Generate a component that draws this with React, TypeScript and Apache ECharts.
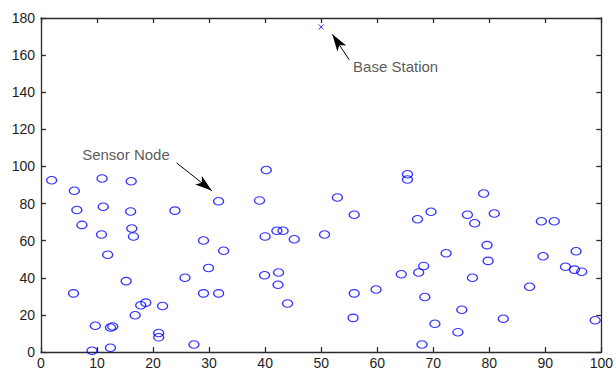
import React, { useEffect, useRef } from "react";
import * as echarts from "echarts";

const sensorX = [
  1.9, 5.95, 6.4, 7.3, 5.8, 10.9, 11.1, 10.8, 11.9, 16.1,
  16.0, 16.2, 16.5, 15.2, 9.7, 12.4, 12.8, 9.1, 12.4, 16.8,
  17.8, 18.7, 21.7, 21.0, 21.0, 23.9, 25.7, 27.3, 29.0, 29.9,
  29.0, 31.7, 31.7, 32.6, 39.0, 40.2, 40.0, 39.9, 42.1, 43.2,
  42.4, 42.3, 44.0, 45.2,
  50.6, 52.9, 55.9, 55.9, 55.7, 59.8, 64.3, 65.4, 65.4, 67.2,
  69.6, 67.4, 68.3, 68.5, 72.3, 70.3, 68.0, 74.4, 75.1, 77.0,
  76.1, 77.4, 79.0, 80.9, 79.6, 79.8, 82.5, 87.2, 89.3, 91.6,
  89.6, 93.6, 95.2, 96.5, 95.5, 98.9,
];
const sensorY = [
  92.6, 86.9, 76.5, 68.5, 31.6, 93.5, 78.3, 63.3, 52.4, 92.0,
  75.7, 66.6, 62.3, 38.2, 14.1, 13.2, 13.7, 0.7, 2.3, 19.8,
  25.2, 26.6, 24.8, 10.2, 7.9, 76.2, 40.0, 4.0, 60.1, 45.3,
  31.6, 31.6, 81.2, 54.6, 81.7, 98.1, 62.3, 41.4, 65.3, 65.3,
  42.8, 36.2, 26.1, 60.8,
  63.3, 83.3, 74.0, 31.6, 18.4, 33.7, 41.9, 95.8, 93.0, 71.5,
  75.6, 42.8, 46.4, 29.6, 53.2, 15.2, 4.0, 10.7, 22.8, 40.0,
  74.0, 69.4, 85.4, 74.6, 57.6, 49.1, 17.9, 35.2, 70.5, 70.5,
  51.6, 45.9, 44.4, 43.3, 54.3, 17.1,
];
const baseStation = [50.0, 175.2];

const annotationTexts = ["Sensor Node", "Base Station"];
const annotationTextPos = [
  [7.35, 106.2],
  [55.7, 153.8],
];
const arrowFrom = [
  [24.2, 101.9],
  [55.0, 157.5],
];
const arrowTo = [
  [30.5, 86.9],
  [52.0, 171.2],
];

const xTicks = { min: 0, max: 100, interval: 10 };
const yTicks = { min: 0, max: 180, interval: 20 };

const AXIS_COLOR = "#2b2b2b";
const FONT = "Liberation Sans, Arial, sans-serif";

export default function App() {
  const ref = useRef<HTMLDivElement>(null);
  useEffect(() => {
    if (!ref.current) return;
    const chart = echarts.init(ref.current, undefined, { renderer: "svg" });
    const axisCommon = {
      axisLine: { show: true, onZero: false, lineStyle: { color: AXIS_COLOR, width: 1.3 } },
      axisTick: { show: true, inside: true, length: 5, lineStyle: { color: AXIS_COLOR, width: 1.3 } },
      splitLine: { show: false },
    };
    const sensorData = sensorX.map((x, i) => [x, sensorY[i]]);
    chart.setOption({
      animation: false,
      backgroundColor: "#ffffff",
      grid: { left: 41, right: 8, top: 18, bottom: 15.5, containLabel: false },
      xAxis: [
        {
          type: "value",
          position: "bottom",
          ...xTicks,
          ...axisCommon,
          axisLabel: { show: true, margin: 4, color: "#1e1e1e", fontSize: 14, fontFamily: FONT, showMinLabel: true, showMaxLabel: true },
        },
        {
          type: "value",
          position: "top",
          ...xTicks,
          ...axisCommon,
          axisLabel: { show: false },
        },
      ],
      yAxis: [
        {
          type: "value",
          position: "left",
          ...yTicks,
          ...axisCommon,
          axisLabel: { show: true, margin: 6, color: "#1e1e1e", fontSize: 14, fontFamily: FONT, showMinLabel: true, showMaxLabel: true },
        },
        {
          type: "value",
          position: "right",
          ...yTicks,
          ...axisCommon,
          axisLabel: { show: false },
        },
      ],
      series: [
        {
          type: "scatter",
          name: "Sensor Node",
          xAxisIndex: 0,
          yAxisIndex: 0,
          data: sensorData,
          symbol: "path://M0,4 A5,4 0 1,1 10,4 A5,4 0 1,1 0,4 Z",
          symbolSize: [10, 7.5],
          itemStyle: { color: "transparent", borderColor: "#0000ff", borderWidth: 1.2 },
          silent: true,
        },
        {
          type: "scatter",
          name: "Base Station",
          xAxisIndex: 0,
          yAxisIndex: 0,
          data: [baseStation],
          symbol: "path://M0,0 L10,10 M10,0 L0,10",
          symbolSize: 5,
          itemStyle: { color: "none", borderColor: "#0000ff", borderWidth: 1 },
          silent: true,
        },
        {
          type: "scatter",
          name: "annotations",
          xAxisIndex: 0,
          yAxisIndex: 0,
          data: annotationTextPos.map((p, i) => ({ value: p, name: annotationTexts[i] })),
          symbolSize: 0,
          itemStyle: { color: "#000000" },
          silent: true,
          label: {
            show: true,
            position: "right",
            distance: 0,
            formatter: (p: any) => p.name,
            color: "#2e2e2e",
            fontSize: 15,
            fontFamily: FONT,
          },
          markLine: {
            silent: true,
            symbol: ["none", "arrow"],
            symbolSize: [8, 17],
            label: { show: false },
            itemStyle: { color: "#000000" },
            lineStyle: { color: "#000000", width: 1, type: "solid" },
            emphasis: { disabled: true },
            data: arrowFrom.map((f, i) => [{ coord: f }, { coord: arrowTo[i] }]),
          },
        },
      ],
    });
    return () => chart.dispose();
  }, []);
  return (
    <div
      ref={ref}
      style={{ position: "absolute", left: 0, top: 0, width: 616, height: 370, background: "#fff" }}
    />
  );
}
